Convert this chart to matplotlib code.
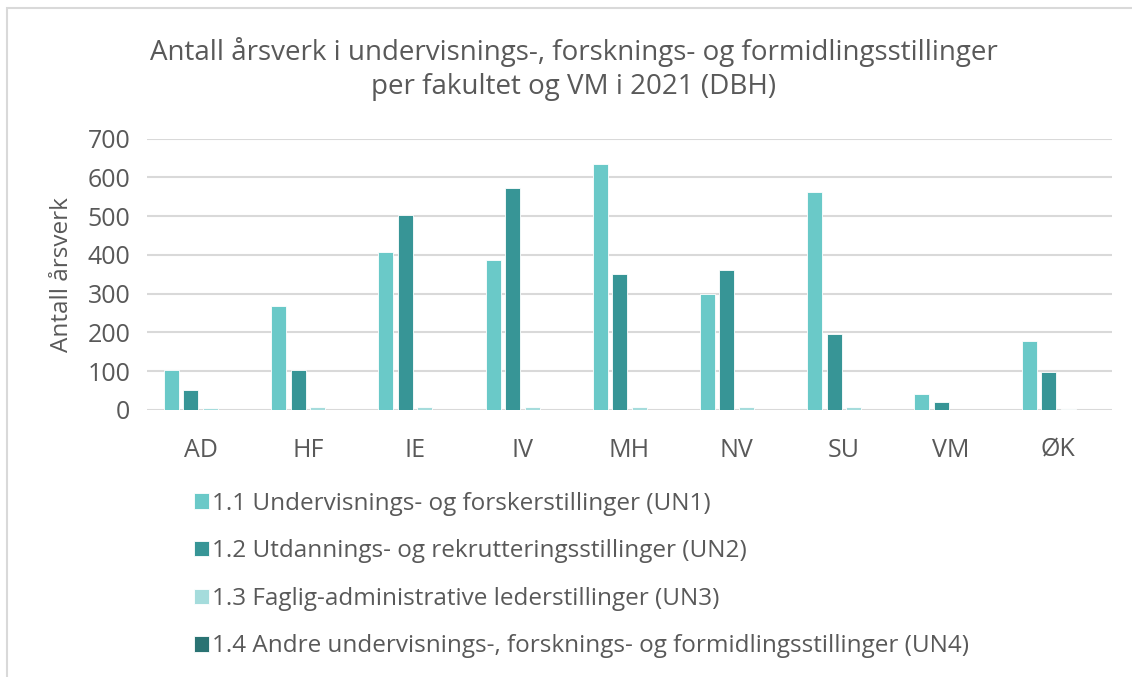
# Antall årsverk per fakultet og VM i 2021 (DBH)

import matplotlib.pyplot as plt
import numpy as np
from matplotlib.patches import Rectangle

plt.rcParams['font.family'] = ['Open Sans', 'DejaVu Sans']

fakulteter = ["AD", "HF", "IE", "IV", "MH", "NV", "SU", "VM", "ØK"]
un1 = [103, 269, 408, 387, 636, 300, 563, 41, 178]
un2 = [52, 104, 503, 572, 350, 362, 195, 21, 98]
un3 = [4, 8, 8, 8, 8, 8, 8, 0, 3]
un4 = [0, 0, 0, 0, 0, 0, 0, 0, 0]
serie_navn = [
    "1.1 Undervisnings- og forskerstillinger (UN1)",
    "1.2 Utdannings- og rekrutteringsstillinger (UN2)",
    "1.3 Faglig-administrative lederstillinger (UN3)",
    "1.4 Andre undervisnings-, forsknings- og formidlingsstillinger (UN4)",
]
farger = ["#6AC9C8", "#379596", "#A5DCDC", "#2A7373"]
tekstfarge = "#595959"

fig = plt.figure(figsize=(11.32, 6.77), dpi=100)
ax = fig.add_axes([0.1299, 0.3944, 0.8524, 0.4007])

x = np.arange(len(fakulteter))
steg = 0.182
bredde = 0.14
handles = []
for i, (verdier, navn, farge) in enumerate(zip([un1, un2, un3, un4], serie_navn, farger)):
    b = ax.bar(x + (i - 1.5) * steg, verdier, width=bredde, color=farge,
               edgecolor="white", linewidth=0.6, label=navn, zorder=3)
    handles.append(b)

ax.set_xlim(-0.5, len(fakulteter) - 0.5)
ax.set_ylim(0, 700)
ax.set_yticks(range(0, 701, 100))
ax.set_xticks(x)
ax.set_xticklabels(fakulteter)
ax.grid(axis="y", color="#D9D9D9", linewidth=1.5, zorder=0)
ax.set_axisbelow(True)
for s in ax.spines.values():
    s.set_visible(False)
ax.tick_params(axis="both", length=0, labelsize=18, labelcolor=tekstfarge)
ax.tick_params(axis="y", pad=12)
ax.tick_params(axis="x", pad=20)
ax.set_ylabel("Antall årsverk", fontsize=17.5, color=tekstfarge, labelpad=10)

fig.text(0.507, 0.898, "Antall årsverk i undervisnings-, forsknings- og formidlingsstillinger\nper fakultet og VM i 2021 (DBH)",
         ha="center", va="center", fontsize=20, color=tekstfarge, linespacing=1.3)

fig.legend(handles=handles, loc="upper left", bbox_to_anchor=(0.152, 0.306),
           frameon=False, fontsize=17.5, labelcolor=tekstfarge, handlelength=0.6,
           handleheight=0.6, handletextpad=0.15, labelspacing=0.97)

# ramme rundt diagrammet
fig.patches.append(Rectangle((7 / 1132, -0.1), 1.2, 1 - 8 / 677 + 0.1, transform=fig.transFigure,
                             fill=False, edgecolor="#D9D9D9", linewidth=1.5))

fig.savefig("out.png", dpi=100)
